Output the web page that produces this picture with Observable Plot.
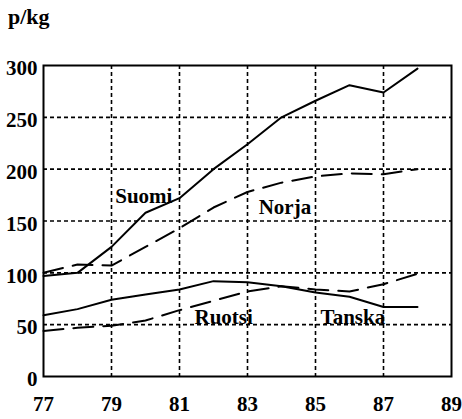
<!DOCTYPE html>
<html>
<head>
<meta charset="utf-8">
<script src="https://cdn.jsdelivr.net/npm/d3@7"></script>
<script src="https://cdn.jsdelivr.net/npm/@observablehq/plot@0.6"></script>
<style>
  body { margin: 0; background: #fff; }
  #wrap { position: relative; width: 462px; height: 419px; }
  #unit { position: absolute; left: 8px; top: 4px; font: bold 22px "Liberation Serif", serif; color: #000; }
</style>
</head>
<body>
<div id="wrap"><div id="unit">p/kg</div></div>
<script>
const years = [77, 78, 79, 80, 81, 82, 83, 84, 85, 86, 87, 88];
const suomi  = [97, 100, 125, 158, 172, 200, 224, 250, 266, 281, 274, 297];
const norja  = [100, 108, 107, 125, 143, 163, 178, 187, 193, 196, 195, 200];
const ruotsi = [59, 65, 74, 79, 84, 92, 91, 87, 81, 77, 67, 67];
const tanska = [44, 47, 49, 54, 64, 73, 82, 87, 84, 82, 89, 99];
const xTicks = [77, 79, 81, 83, 85, 87, 89];
const yTicks = [0, 50, 100, 150, 200, 250, 300];
const xGrid = [79, 81, 83, 85, 87];
const yGrid = [50, 100, 150, 200, 250];
const labelNames = ["Suomi", "Norja", "Ruotsi", "Tanska"];
const labelX = [79.95, 84.1, 82.3, 86.1];
const labelY = [174, 163, 57, 57];

const series = [
  {name: "Suomi", values: suomi, dash: null},
  {name: "Norja", values: norja, dash: "20,10"},
  {name: "Ruotsi", values: ruotsi, dash: null},
  {name: "Tanska", values: tanska, dash: "20,10"}
];
const rows = s => years.map((y, i) => ({year: y, value: s.values[i]}));
const labels = labelNames.map((n, i) => ({name: n, x: labelX[i], y: labelY[i]}));

const chart = Plot.plot({
  width: 462,
  height: 419,
  marginTop: 65,
  marginBottom: 43,
  marginLeft: 43,
  marginRight: 11,
  style: {fontFamily: "'Liberation Serif', serif", fontSize: "21px", fontWeight: "bold", color: "#000", background: "transparent"},
  x: {domain: [77, 89], ticks: xTicks, tickSize: 0, tickPadding: 20, tickFormat: d => String(d), label: null},
  y: {domain: [0, 300], ticks: yTicks, tickSize: 0, tickPadding: 6, label: null},
  marks: [
    Plot.ruleY(yGrid, {stroke: "#000", strokeWidth: 1.6, strokeDasharray: "4,3"}),
    Plot.ruleX(xGrid, {stroke: "#000", strokeWidth: 1.6, strokeDasharray: "4,3"}),
    ...series.map(s => Plot.line(rows(s), {x: "year", y: "value", stroke: "#000", strokeWidth: 2, strokeDasharray: s.dash})),
    Plot.frame({stroke: "#000", strokeWidth: 2}),
    Plot.text(labels, {x: "x", y: "y", text: "name", fontSize: 21, fontWeight: "bold", fill: "#000"}),
    Plot.axisX({ticks: xTicks, tickSize: 0, tickPadding: 20, tickFormat: d => String(d), fontSize: 21}),
    Plot.axisY({ticks: yTicks, tickSize: 0, tickPadding: 6, dy: 3, fontSize: 21})
  ]
});
document.getElementById("wrap").appendChild(chart);
chart.style.position = "absolute";
chart.style.left = "0";
chart.style.top = "0";
</script>
</body>
</html>
